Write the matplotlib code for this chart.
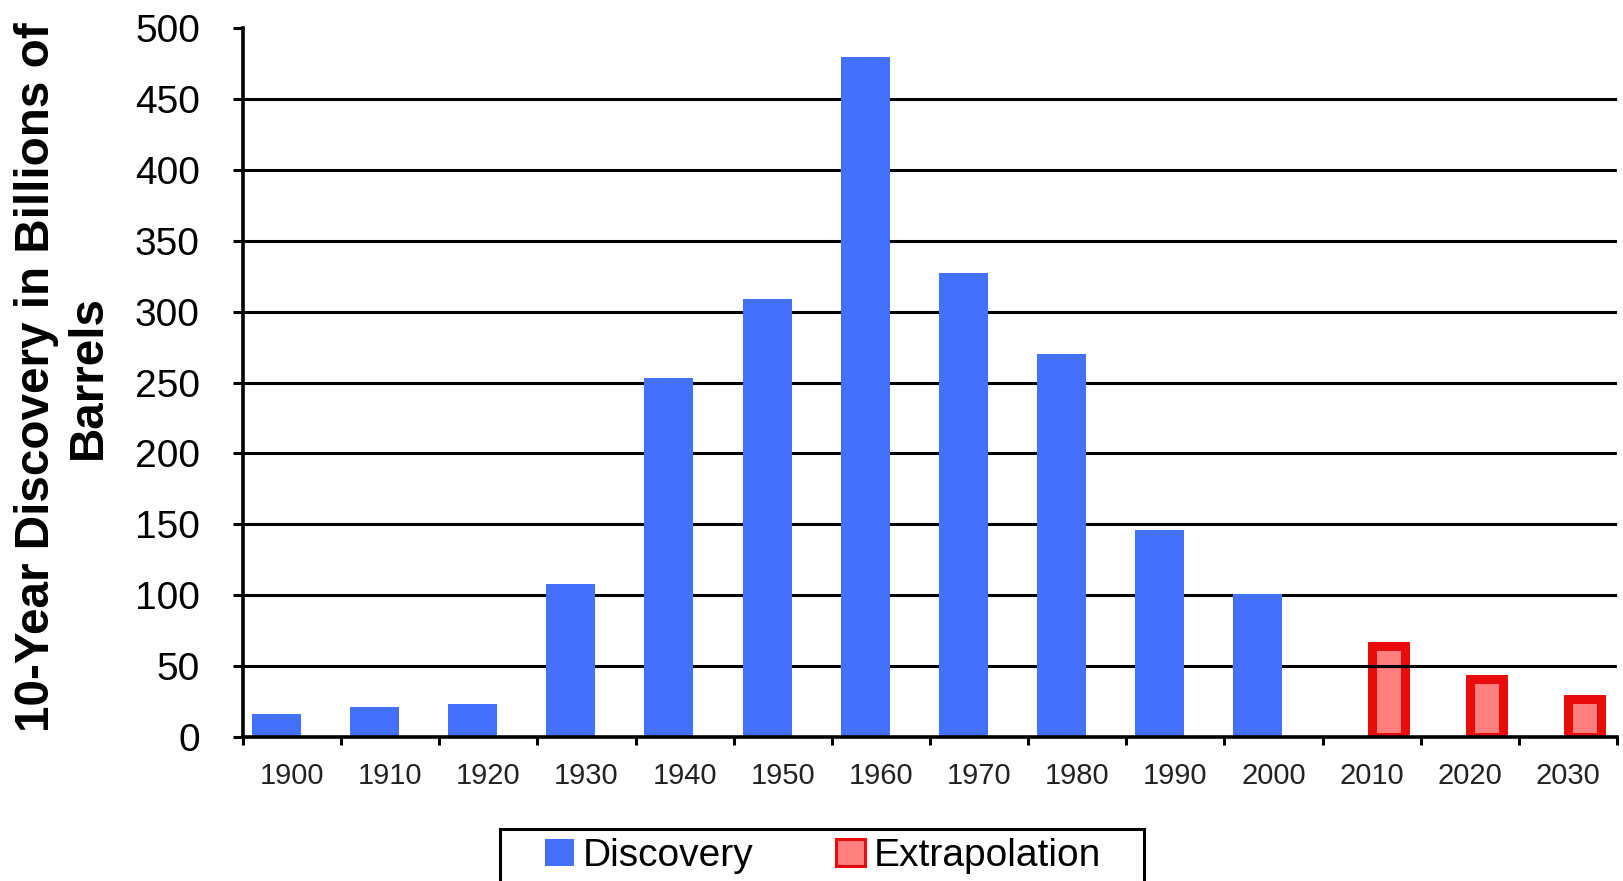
import matplotlib
matplotlib.use("Agg")
import numpy as np
from matplotlib import pyplot as plt
from matplotlib.patches import Rectangle

decades = ["1900", "1910", "1920", "1930", "1940", "1950", "1960",
           "1970", "1980", "1990", "2000", "2010", "2020", "2030"]
discovery = [16, 21, 23, 108, 253, 309, 480, 327, 270, 146, 101]
extrapolation = [64, 41, 27]
y_ticks = [0, 50, 100, 150, 200, 250, 300, 350, 400, 450, 500]

plt.rcParams["font.family"] = ["Liberation Sans", "DejaVu Sans"]

fig = plt.figure(figsize=(16.23, 8.81), dpi=100)
ax = fig.add_axes([0.1497, 0.1635, 0.8466, 0.8045])

x_all = np.arange(len(decades))
x_disc = x_all[:len(discovery)]
x_extr = x_all[len(discovery):]

# grid lines (none at 0 and 500)
ax.hlines(y_ticks[1:-1], -0.5, len(decades) - 0.5, colors="black",
          linewidth=2.2, zorder=1)

# two series side by side, overlapping (Excel style)
ax.bar(x_disc - 0.16, discovery, width=0.5, color="#4371fb", zorder=2,
       label="Discovery")
ax.bar(x_extr + 0.17, extrapolation, width=0.34, facecolor=(1, 0, 0, 0.5),
       edgecolor="#e80c0c", linewidth=6.5, zorder=0.5,
       label="Extrapolation")

ax.set_xlim(-0.5, len(decades) - 0.5)
ax.set_ylim(0, 500)

ax.spines["top"].set_visible(False)
ax.spines["right"].set_visible(False)
ax.spines["left"].set_linewidth(2.6)
ax.spines["bottom"].set_linewidth(2.6)
ax.spines["bottom"].set_zorder(3)

ax.set_yticks(y_ticks)
ax.set_yticklabels([str(v) for v in y_ticks])
ax.tick_params(axis="y", direction="out", length=7, width=2.2,
               labelsize=28, pad=24, colors="black")

ax.set_xticks(np.arange(-0.5, len(decades), 1.0))
ax.set_xticklabels([])
ax.set_xticks(x_all, minor=True)
ax.set_xticklabels(decades, minor=True)
ax.tick_params(axis="x", which="major", direction="out", length=6,
               width=2.2)
ax.tick_params(axis="x", which="minor", length=0, labelsize=21, pad=18,
               labelcolor="#222222")

fig.text(0.0385, 0.572, "10-Year Discovery in Billions of\nBarrels",
         rotation=90, ha="center", va="center", multialignment="center",
         fontsize=34.3, fontweight="bold")

# legend with frame drawn by hand (box runs off the bottom)
leg = fig.legend(loc="center left", bbox_to_anchor=(0.3358, 0.0284),
                 ncol=2, frameon=False, fontsize=28, borderpad=0,
                 borderaxespad=0, handlelength=0.75, handleheight=0.7,
                 handletextpad=0.22, columnspacing=2.13)
leg.legend_handles[1].set_linewidth(2.2)
fig.patches.append(Rectangle((500 / 1623, -0.05), 644 / 1623,
                             0.05 + 52 / 881, transform=fig.transFigure,
                             fill=False, edgecolor="black", linewidth=2.2))

fig.savefig("out.png", dpi=100)
plt.close(fig)
